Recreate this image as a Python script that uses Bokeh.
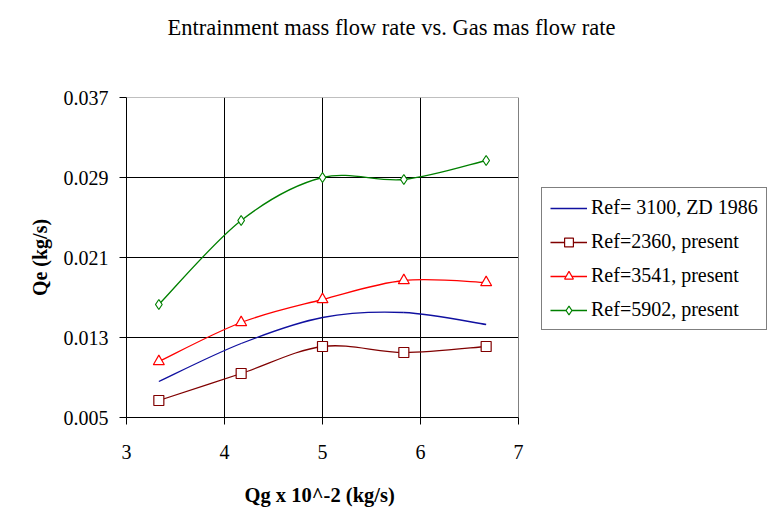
from bokeh.plotting import figure
from bokeh.models import FixedTicker, PrintfTickFormatter, Legend, LegendItem, ColumnDataSource, Title
from bokeh.embed import file_html
from bokeh.resources import INLINE

# ---- data ----
qg = [3.33, 4.17, 5.0, 5.83, 6.67]
zd1986 = [0.0086, 0.0124, 0.0150, 0.0155, 0.0143]
re2360 = [0.0067, 0.0094, 0.0121, 0.0115, 0.0121]
re3541 = [0.0106, 0.0145, 0.0168, 0.0187, 0.0185]
re5902 = [0.0163, 0.0247, 0.0290, 0.0288, 0.0307]
labels = ["Ref= 3100, ZD 1986", "Ref=2360, present", "Ref=3541, present", "Ref=5902, present"]
y_ticks = [0.005, 0.013, 0.021, 0.029, 0.037]
x_ticks = [3, 4, 5, 6, 7]

FONT = "Liberation Serif"
W, H = 770, 517
LEFT, PLOT_W = 126, 392          # pixel width of the 3..7 axis span
x_end = x_ticks[0] + (W - LEFT) / PLOT_W * (x_ticks[-1] - x_ticks[0])

p = figure(width=W, height=H, output_backend="svg", toolbar_location=None,
           x_range=(x_ticks[0], x_end), y_range=(y_ticks[0], y_ticks[-1]),
           min_border_left=LEFT, min_border_right=0, min_border_top=97, min_border_bottom=100)
p.background_fill_color = "white"
p.border_fill_color = "white"
p.outline_line_color = None

# spacer between plot area and title (inner item of the top panel)
p.add_layout(Title(text=" ", text_font_size="10px", standoff=43, text_color="white"), "above")

p.title.text = "Entrainment mass flow rate vs. Gas mas flow rate"
p.title.align = "left"
p.title.offset = 41
p.title.vertical_align = "top"
p.title.standoff = 0
p.title.text_font = FONT
p.title.text_font_size = "22.5px"
p.title.text_font_style = "normal"
p.title.text_color = "black"

p.xaxis.ticker = FixedTicker(ticks=x_ticks)
p.yaxis.ticker = FixedTicker(ticks=y_ticks)
p.xaxis.bounds = (x_ticks[0], x_ticks[-1])
p.xaxis.formatter = PrintfTickFormatter(format="%d")
p.yaxis.formatter = PrintfTickFormatter(format="%.3f")
p.xgrid.ticker = FixedTicker(ticks=x_ticks[1:-1])
p.xgrid.grid_line_color = "black"
p.ygrid.visible = False
p.axis.axis_line_color = "black"
p.axis.major_tick_line_color = "black"
p.axis.minor_tick_line_color = None
p.axis.major_tick_in = 0
p.axis.major_tick_out = 7
p.axis.major_label_text_font = FONT
p.axis.major_label_text_font_size = "20px"
p.axis.major_label_text_color = "black"
p.xaxis.major_label_standoff = 20
p.yaxis.major_label_standoff = 11
p.axis.axis_label_text_font = FONT
p.axis.axis_label_text_font_size = "20px"
p.axis.axis_label_text_font_style = "bold"
p.axis.axis_label_text_color = "black"
p.yaxis.axis_label = "Qe (kg/s)"
p.yaxis.axis_label_standoff = 10

# spacer below the tick labels, then the x-axis title
p.add_layout(Title(text=" ", text_font_size="10px", standoff=9, text_color="white"), "below")
xlabel = Title(text="Qg x 10^-2 (kg/s)", align="left", offset=118, text_font=FONT,
               text_font_size="20.5px", text_font_style="bold", text_color="black",
               vertical_align="top", standoff=0)
p.add_layout(xlabel, "below")

# horizontal gridlines (inner ticks) and grey plot-area border (top / right)
inner = y_ticks[1:-1]
p.segment(x0=[x_ticks[0]] * len(inner), y0=inner, x1=[x_ticks[-1]] * len(inner), y1=inner,
          line_color="black", line_width=1)
p.segment(x0=[x_ticks[0], x_ticks[-1]], y0=[y_ticks[-1], y_ticks[0]],
          x1=[x_ticks[-1], x_ticks[-1]], y1=[y_ticks[-1], y_ticks[-1]],
          line_color="#808080", line_width=1)


def smooth(xs, ys):
    n = len(xs)
    x0, y0, x1, y1, cx0, cy0, cx1, cy1 = [], [], [], [], [], [], [], []
    for i in range(n - 1):
        im = max(i - 1, 0)
        ip = min(i + 2, n - 1)
        x0.append(xs[i]); y0.append(ys[i]); x1.append(xs[i + 1]); y1.append(ys[i + 1])
        cx0.append(xs[i] + (xs[i + 1] - xs[im]) / 6); cy0.append(ys[i] + (ys[i + 1] - ys[im]) / 6)
        cx1.append(xs[i + 1] - (xs[ip] - xs[i]) / 6); cy1.append(ys[i + 1] - (ys[ip] - ys[i]) / 6)
    return ColumnDataSource(dict(x0=x0, y0=y0, x1=x1, y1=y1, cx0=cx0, cy0=cy0, cx1=cx1, cy1=cy1))


series = [
    (zd1986, "#1010A0", None),
    (re2360, "#800000", "square"),
    (re3541, "#FF0000", "triangle"),
    (re5902, "#008000", "diamond"),
]
sizes = {"square": 10, "triangle": 11, "diamond": 10}
items = []
for (ys, color, marker), lab in zip(series, labels):
    src = smooth(qg, ys)
    r = p.bezier(x0="x0", y0="y0", x1="x1", y1="y1", cx0="cx0", cy0="cy0", cx1="cx1", cy1="cy1",
                 source=src, line_color=color, line_width=1.3)
    rs = [r]
    if marker:
        s = p.scatter(qg, ys, marker=marker, size=sizes[marker], line_color=color,
                      fill_color="white", line_width=1.2)
        rs.append(s)
    items.append(LegendItem(label=lab, renderers=rs))

legend = Legend(items=items, location=(415, 87))
legend.label_text_font = FONT
legend.label_text_font_size = "20px"
legend.label_text_color = "black"
legend.border_line_color = "black"
legend.border_line_width = 1
legend.glyph_width = 37
legend.glyph_height = 22
legend.spacing = 11
legend.padding = 8
legend.margin = 0
legend.label_standoff = 4
legend.background_fill_color = "white"
p.add_layout(legend)

open("out.html", "w").write(file_html(p, INLINE))
